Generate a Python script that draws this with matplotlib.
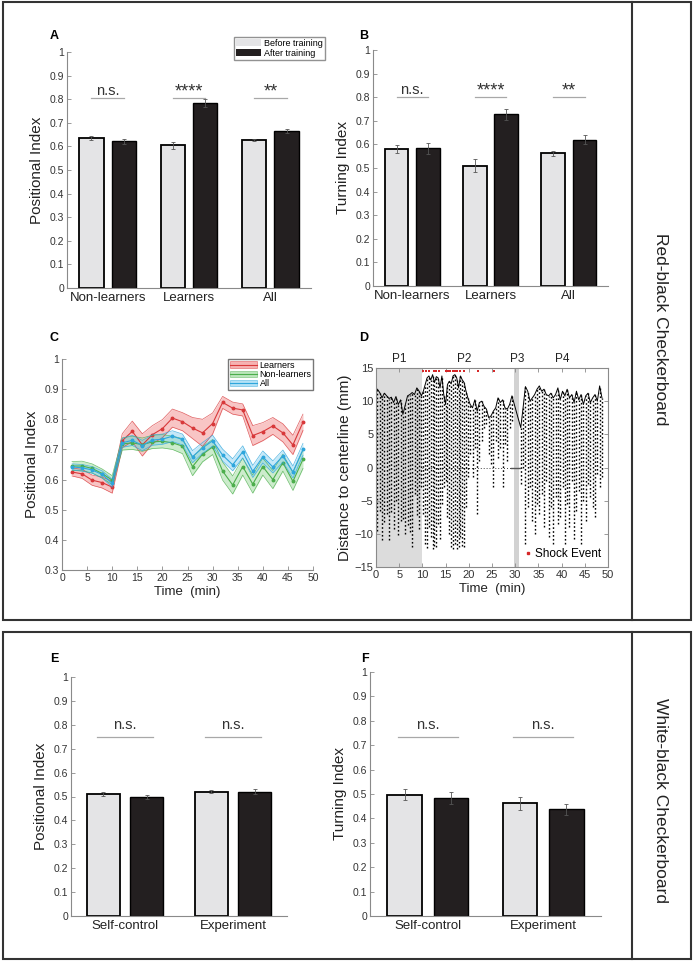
import matplotlib
matplotlib.use('Agg')
import matplotlib.pyplot as plt
from matplotlib.patches import Patch, Rectangle
from matplotlib.lines import Line2D

plt.rcParams['font.family'] = ['Liberation Sans', 'DejaVu Sans']

# ---- panel A / B : red-black checkerboard, before vs after training
groups_rb = ['Non-learners', 'Learners', 'All']
pos_before = [0.635, 0.605, 0.627]
pos_before_err = [0.007, 0.015, 0.005]
pos_after = [0.622, 0.785, 0.665]
pos_after_err = [0.010, 0.016, 0.010]
turn_before = [0.580, 0.510, 0.562]
turn_before_err = [0.018, 0.028, 0.012]
turn_after = [0.583, 0.727, 0.620]
turn_after_err = [0.022, 0.025, 0.020]
sig_rb = ['n.s.', '****', '**']

# ---- panel E / F : white-black checkerboard
groups_wb = ['Self-control', 'Experiment']
wb_pos_before = [0.510, 0.520]
wb_pos_before_err = [0.007, 0.007]
wb_pos_after = [0.498, 0.520]
wb_pos_after_err = [0.008, 0.010]
wb_turn_before = [0.497, 0.462]
wb_turn_before_err = [0.022, 0.027]
wb_turn_after = [0.482, 0.437]
wb_turn_after_err = [0.025, 0.022]
sig_wb = ['n.s.', 'n.s.']

# ---- panel C : positional index over time
time_c = [2, 4, 6, 8, 10, 12, 14, 16, 18, 20, 22, 24,
          26, 28, 30, 32, 34, 36, 38, 40, 42, 44, 46, 48]
learn_mean = [0.625, 0.619, 0.598, 0.590, 0.575, 0.729, 0.760, 0.715, 0.749, 0.769, 0.804, 0.792,
              0.771, 0.755, 0.786, 0.856, 0.837, 0.831, 0.746, 0.759, 0.778, 0.755, 0.715, 0.790]
learn_sem = [0.013, 0.015, 0.017, 0.018, 0.020, 0.023, 0.034, 0.037, 0.030, 0.030, 0.030, 0.030,
             0.035, 0.045, 0.035, 0.020, 0.020, 0.020, 0.033, 0.030, 0.028, 0.030, 0.032, 0.027]
nonlearn_mean = [0.645, 0.645, 0.637, 0.620, 0.598, 0.718, 0.722, 0.716, 0.725, 0.727, 0.722, 0.711,
                 0.643, 0.684, 0.708, 0.628, 0.582, 0.643, 0.585, 0.643, 0.600, 0.656, 0.594, 0.667]
nonlearn_sem = [0.015, 0.016, 0.015, 0.015, 0.015, 0.020, 0.022, 0.022, 0.022, 0.022, 0.022, 0.025,
                0.030, 0.025, 0.025, 0.030, 0.030, 0.028, 0.030, 0.028, 0.030, 0.028, 0.030, 0.030]
all_mean = [0.642, 0.639, 0.632, 0.617, 0.588, 0.722, 0.730, 0.713, 0.731, 0.734, 0.744, 0.733,
            0.676, 0.705, 0.729, 0.681, 0.649, 0.692, 0.627, 0.675, 0.642, 0.678, 0.625, 0.700]
all_sem = [0.010, 0.011, 0.011, 0.012, 0.013, 0.015, 0.017, 0.017, 0.017, 0.017, 0.018, 0.018,
           0.020, 0.018, 0.018, 0.020, 0.020, 0.020, 0.020, 0.020, 0.020, 0.020, 0.020, 0.020]

# ---- panel D : distance to centerline, one fish (vertical streaks, min / mm)
trace_t = [0.3, 0.8, 1.3, 1.8, 2.3, 2.8, 3.3, 3.8, 4.3, 4.8, 5.3, 5.8, 6.3, 6.8, 7.3, 7.8, 8.3, 8.8, 9.3, 9.8,
           10.2, 10.6, 11.0, 11.4, 11.8, 12.2, 12.6, 13.0, 13.4, 13.8, 14.2, 14.6, 15.0, 15.4, 15.8,
           16.2, 16.6, 17.0, 17.4, 17.8, 18.2, 18.6, 19.0, 19.4, 19.8,
           20.3, 20.8, 21.3, 21.8, 22.3, 22.8, 23.3, 23.8, 24.3, 24.8, 25.3, 25.8, 26.3, 26.8, 27.3,
           27.8, 28.3, 28.8, 29.3,
           31.2, 31.7, 32.2, 32.7, 33.2, 33.7, 34.2, 34.7, 35.2, 35.7, 36.2, 36.7, 37.2, 37.7, 38.2,
           38.7, 39.2, 39.7, 40.2, 40.7, 41.2, 41.7, 42.2, 42.7, 43.2, 43.7, 44.2, 44.7, 45.2, 45.7,
           46.2, 46.7, 47.2, 47.7, 48.2, 48.7]
trace_top = [11.8, 11.3, 10.5, 11.2, 10.8, 10.4, 10.6, 9.8, 10.7, 9.5, 10.2, 8.0, 9.4, 10.8, 11.0, 11.3, 11.0, 12.0, 11.5, 10.8,
             11.5, 12.5, 13.5, 13.8, 13.2, 14.0, 12.8, 13.7, 13.5, 12.0, 13.8, 11.0, 9.5, 12.5, 13.0,
             12.6, 13.8, 14.0, 13.5, 12.0, 13.8, 13.2, 12.8, 11.5, 10.5,
             9.5, 9.0, 10.2, 8.5, 9.8, 10.0, 9.2, 8.8, 7.5, 7.8, 8.5, 9.0, 10.5, 9.8, 10.2,
             9.0, 8.8, 9.5, 10.8,
             6.0, 9.0, 12.2, 11.5, 10.0, 10.5, 11.0, 11.8, 12.3, 11.5, 11.8, 11.0, 10.8, 11.2, 10.5,
             11.0, 12.0, 10.2, 11.5, 10.8, 11.8, 10.5, 11.0, 9.8, 11.5, 10.2, 11.0, 9.5, 10.8, 11.2,
             9.8, 10.5, 11.0, 10.0, 12.3, 10.5]
trace_bot = [-9.5, -6.5, -11.0, -8.2, -7.0, -11.0, -6.7, -9.2, -5.0, -10.2, -8.0, -7.7, -10.0, -8.7, -9.7, -12.0, -4.0, -7.2, -9.2, -3.0,
             -7.0, -11.5, -12.2, -9.0, -10.5, -12.3, -11.8, -12.0, -8.5, -10.8, -5.5, -3.0, -2.0, -7.5, -10.0,
             -12.0, -12.3, -11.5, -12.3, -12.0, -10.5, -11.8, -12.0, -6.0, -1.5,
             2.0, -1.5, 3.0, -7.0, 1.0, 4.0, 6.0, 6.5, 2.0, 0.5, -3.0, 4.0, 1.5, 3.0, -3.0,
             3.5, 1.0, 6.0, 7.0,
             -2.5, 0.0, -11.5, -6.0, -3.0, -8.0, -10.0, -5.5, -7.0, -4.0, -9.0, -2.0, -10.5, -6.0, -11.5,
             -4.5, -8.5, -7.5, -3.0, -11.5, -5.5, -9.0, -2.0, -10.8, -6.5, -3.5, -11.5, -5.0, -8.0, -2.5,
             -4.5, -6.0, -7.5, -1.0, -3.0, -1.5]
shock_t = [10.2, 10.8, 11.5, 12.5, 13.0, 13.5, 15.0, 15.5, 16.0, 16.5, 17.0, 17.5, 18.0, 19.0, 22.0, 25.5]
phase_names = ['P1', 'P2', 'P3', 'P4']
phase_mid = [5, 19, 30.4, 40.2]

W, H = 694, 961
fig = plt.figure(figsize=(W / 100, H / 100), dpi=100)

AXIS_C = '#8a8a8a'
TEXT_C = '#333333'
LIGHT = '#e4e4e6'
DARK = '#231f20'


def px_axes(l, t, r, b):
    return fig.add_axes([l / W, 1 - b / H, (r - l) / W, (b - t) / H])


def style(ax, box=False):
    for s in ['top', 'right']:
        ax.spines[s].set_visible(box)
    for s in ax.spines.values():
        s.set_color(AXIS_C)
        s.set_linewidth(0.8)
    ax.tick_params(direction='in', length=3, width=0.6, color=AXIS_C,
                   labelsize=7.5, labelcolor=TEXT_C, pad=2)
    if box:
        ax.tick_params(top=True, right=True)


def bar_panel(ax, groups, before, before_err, after, after_err, ylabel, sig, sig_y, sig_half, text_gap):
    style(ax)
    x = list(range(1, len(groups) + 1))
    xb = [v - 0.2 for v in x]
    xa = [v + 0.2 for v in x]
    ax.bar(xb, before, 0.3, color=LIGHT, edgecolor='black', linewidth=1.3, zorder=2)
    ax.bar(xa, after, 0.3, color=DARK, edgecolor='black', linewidth=1.0, zorder=2)
    ax.errorbar(xb, before, yerr=before_err, fmt='none', ecolor='#555555',
                elinewidth=0.6, capsize=1.5, capthick=0.6, zorder=3)
    ax.errorbar(xa, after, yerr=after_err, fmt='none', ecolor='#555555',
                elinewidth=0.6, capsize=1.5, capthick=0.6, zorder=3)
    for c, s in zip(x, sig):
        ax.plot([c - sig_half, c + sig_half], [sig_y, sig_y], color='#a8a8a8', lw=0.9)
        size = 13 if s.startswith('*') else 10.5
        gap = text_gap - 0.012 if s.startswith('*') else text_gap
        ax.text(c, sig_y + gap, s, ha='center', va='bottom', fontsize=size, color=TEXT_C)
    ax.set_ylim(0, 1)
    ax.set_xlim(0.5, len(groups) + 0.5)
    ax.set_yticks([i / 10 for i in range(11)])
    ax.set_yticklabels(['0', '0.1', '0.2', '0.3', '0.4', '0.5', '0.6', '0.7', '0.8', '0.9', '1'])
    ax.set_xticks(x)
    ax.set_xticklabels(groups, fontsize=9.5, color='#222222')
    ax.tick_params(axis='x', length=0, pad=3)
    ax.set_ylabel(ylabel, fontsize=11, color='#222222', labelpad=4)


# A
axA = px_axes(67, 52, 311, 288)
bar_panel(axA, groups_rb, pos_before, pos_before_err, pos_after, pos_after_err,
          'Positional Index', sig_rb, 0.805, 0.2, 0.002)
fig.legend(handles=[Patch(facecolor=LIGHT, edgecolor='none', label='Before training'),
                    Patch(facecolor=DARK, edgecolor='none', label='After training')],
           loc='upper left', bbox_to_anchor=(229 / W, 1 - 32 / H), fontsize=6.5,
           frameon=True, fancybox=False, edgecolor='#777777', borderpad=0.25,
           handlelength=2.8, handleheight=0.9, handletextpad=0.3, labelspacing=0.1)

# B
axB = px_axes(373, 50, 608, 286)
bar_panel(axB, groups_rb, turn_before, turn_before_err, turn_after, turn_after_err,
          'Turning Index', sig_rb, 0.80, 0.2, 0.002)

# E
axE = px_axes(71, 677, 287, 916)
bar_panel(axE, groups_wb, wb_pos_before, wb_pos_before_err, wb_pos_after, wb_pos_after_err,
          'Positional Index', sig_wb, 0.75, 0.26, 0.02)

# F
axF = px_axes(370, 672, 601, 916)
bar_panel(axF, groups_wb, wb_turn_before, wb_turn_before_err, wb_turn_after, wb_turn_after_err,
          'Turning Index', sig_wb, 0.735, 0.26, 0.02)

# C
axC = px_axes(62, 359, 313, 570)
style(axC)
series = [(learn_mean, learn_sem, '#d8383a', '#f08080', 'Learners'),
          (nonlearn_mean, nonlearn_sem, '#4cae4c', '#8fd68f', 'Non-learners'),
          (all_mean, all_sem, '#2ea6dc', '#7fcdf0', 'All')]
handles = []
for mean, sem, lc, fc, name in series:
    lo = [m - s for m, s in zip(mean, sem)]
    hi = [m + s for m, s in zip(mean, sem)]
    axC.fill_between(time_c, lo, hi, color=fc, alpha=0.45, lw=0)
    axC.plot(time_c, lo, color=lc, lw=0.5, alpha=0.8)
    axC.plot(time_c, hi, color=lc, lw=0.5, alpha=0.8)
    axC.plot(time_c, mean, color=lc, lw=0.8, marker='o', markersize=1.8)
    handles.append((Patch(facecolor=fc, alpha=0.6, edgecolor=lc, lw=0.5),
                    Line2D([], [], color=lc, lw=0.8)))
axC.legend(handles, [s[4] for s in series], loc='upper left',
           bbox_to_anchor=(228 / W, 1 - 359 / H), bbox_transform=fig.transFigure,
           fontsize=6.5, frameon=True, fancybox=False, edgecolor='#555555',
           borderpad=0.2, handlelength=3.0, handletextpad=0.3, labelspacing=0.02,
           borderaxespad=0)
axC.set_xlim(0, 50)
axC.set_ylim(0.3, 1)
axC.set_xticks([0, 5, 10, 15, 20, 25, 30, 35, 40, 45, 50])
axC.set_yticks([0.3, 0.4, 0.5, 0.6, 0.7, 0.8, 0.9, 1.0])
axC.set_yticklabels(['0.3', '0.4', '0.5', '0.6', '0.7', '0.8', '0.9', '1'])
axC.set_xlabel('Time  (min)', fontsize=9.5, color='#222222', labelpad=2)
axC.set_ylabel('Positional Index', fontsize=11, color='#222222', labelpad=4)

# D
axD = px_axes(376, 368, 608, 567)
style(axD, box=True)
axD.axvspan(0, 10, color='#dcdcdc', lw=0, zorder=0)
axD.axvspan(29.8, 30.8, color='#d2d2d2', lw=0, zorder=0)
axD.vlines(trace_t, trace_bot, trace_top, colors='black', linestyles=(0, (1.2, 1.6)), lw=1.0)
axD.plot(trace_t, trace_top, color='black', lw=0.7)
axD.plot([10, 29.8], [0, 0], color='black', lw=0.6, ls=(0, (1, 2.5)))
axD.plot([29, 31], [0, 0], color='#555555', lw=1.0)
axD.scatter(shock_t, [14.6] * len(shock_t), s=2, marker='s', color='#d62728', lw=0, zorder=4)
axD.legend(handles=[Line2D([], [], marker='s', color='#d62728', ls='none', markersize=2)],
           labels=['Shock Event'], loc='lower right', frameon=False, fontsize=8.5,
           handlelength=0.6, handletextpad=0.3, borderaxespad=0.2)
for name, xm in zip(phase_names, phase_mid):
    axD.text(xm, 15.4, name, ha='center', va='bottom', fontsize=8.5, color='#222222')
axD.set_xlim(0, 50)
axD.set_ylim(-15, 15)
axD.set_xticks([0, 5, 10, 15, 20, 25, 30, 35, 40, 45, 50])
axD.set_yticks([-15, -10, -5, 0, 5, 10, 15])
axD.tick_params(labelsize=8)
axD.set_xlabel('Time  (min)', fontsize=9.5, color='#222222', labelpad=2)
axD.set_ylabel('Distance to centerline (mm)', fontsize=11, color='#222222', labelpad=2)

# panel letters
for letter, lx, ly in [('A', 50, 36), ('B', 359, 36), ('C', 50, 338), ('D', 359, 338),
                       ('E', 50, 659), ('F', 361, 659)]:
    fig.text(lx / W, 1 - ly / H, letter, fontsize=9, fontweight='bold', ha='left', va='center')

# frames and side labels
for top, bot in [(2, 620), (632, 959)]:
    fig.add_artist(Rectangle((3 / W, 1 - bot / H), 688 / W, (bot - top) / H,
                             transform=fig.transFigure, fill=False, ec='#333333', lw=1.5))
    fig.add_artist(Line2D([632 / W, 632 / W], [1 - bot / H, 1 - top / H],
                          transform=fig.transFigure, color='#333333', lw=1.5))
fig.text(661 / W, 1 - 329 / H, 'Red-black Checkerboard', rotation=-90, ha='center', va='center',
         fontsize=12.5, color='#222222')
fig.text(661 / W, 1 - 801 / H, 'White-black Checkerboard', rotation=-90, ha='center', va='center',
         fontsize=12.5, color='#222222')

fig.savefig('out.png', dpi=100)
